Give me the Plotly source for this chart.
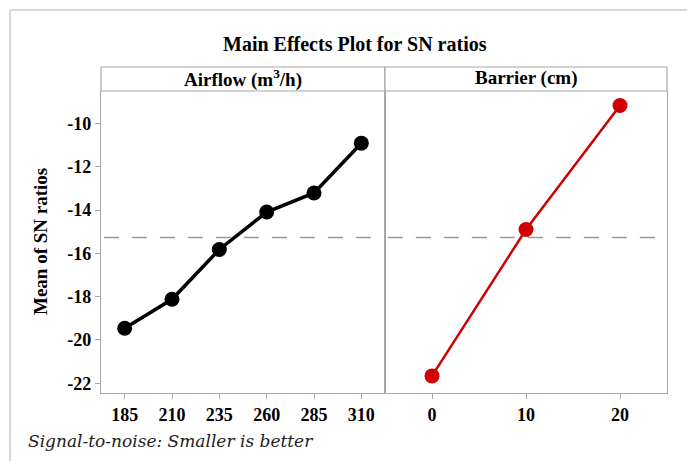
import plotly.graph_objects as go

airflow_levels = ["185", "210", "235", "260", "285", "310"]
airflow_sn = [-19.46, -18.12, -15.82, -14.09, -13.21, -10.91]
barrier_levels = [0, 10, 20]
barrier_sn = [-21.66, -14.90, -9.17]
y_ticks = [-22, -20, -18, -16, -14, -12, -10]
y_tick_labels = ["-22", "-20", "-18", "-16", "-14", "-12", "-10"]

overall_mean = sum(airflow_sn) / len(airflow_sn)

W, H = 687, 461
def px(x):
    return x / W
def py(y):
    return (H - y) / H

FONT = "Liberation Serif"
GRID = "#a8a8a8"

fig = go.Figure()
fig.add_trace(go.Scatter(x=airflow_levels, y=airflow_sn, mode="lines+markers",
                         line=dict(color="black", width=3.5),
                         marker=dict(color="black", size=15),
                         xaxis="x", yaxis="y", showlegend=False))
fig.add_trace(go.Scatter(x=barrier_levels, y=barrier_sn, mode="lines+markers",
                         line=dict(color="#d00000", width=2.5),
                         marker=dict(color="#d00000", size=15),
                         xaxis="x2", yaxis="y2", showlegend=False))

x1d = [px(101), px(385)]
x2d = [px(385), px(667)]
yd = [py(393), py(91)]
yr = [-22.45, -8.5]

tickfont = dict(family=FONT, size=18, color="black", weight="bold")
axis_common = dict(showline=True, linecolor=GRID, linewidth=1.2, mirror=True,
                   showgrid=False, zeroline=False, tickcolor=GRID,
                   ticklen=5, tickwidth=1.2, tickfont=tickfont)

fig.update_layout(
    width=W, height=H, margin=dict(l=0, r=0, t=0, b=0),
    paper_bgcolor="white", plot_bgcolor="white",
    xaxis=dict(domain=x1d, anchor="y", type="category", range=[-0.5, 5.5],
               ticks="outside", **axis_common),
    xaxis2=dict(domain=x2d, anchor="y2", range=[-5, 25], tickvals=barrier_levels,
                ticks="outside", **axis_common),
    yaxis=dict(domain=yd, anchor="x", range=yr, tickvals=y_ticks, ticktext=y_tick_labels,
               ticks="outside", **axis_common),
    yaxis2=dict(domain=yd, anchor="x2", range=yr, showticklabels=False, ticks="",
                **axis_common),
)

# reference dashed lines at overall mean
for xr, yr_ in (("x domain", "y"), ("x2 domain", "y2")):
    fig.add_shape(type="line", xref=xr, yref=yr_, x0=0.01, x1=0.99, y0=overall_mean, y1=overall_mean,
                  line=dict(color="#999999", width=1.5, dash="15px,13px"), layer="below")

# strips
for d in (x1d, x2d):
    fig.add_shape(type="rect", xref="paper", yref="paper", x0=d[0], x1=d[1],
                  y0=py(91), y1=py(67), line=dict(color=GRID, width=1.2), fillcolor="white")

def note(x, y, text, size, **kw):
    fig.add_annotation(xref="paper", yref="paper", x=px(x), y=py(y), text=text,
                       showarrow=False, xanchor=kw.pop("xanchor", "center"),
                       yanchor="middle",
                       font=dict(family=kw.pop("family", FONT), size=size,
                                 color=kw.pop("color", "black")), **kw)

note(243, 78, "<b>Airflow (m<sup>3</sup>/h)</b>", 19)
note(526, 78, "<b>Barrier (cm)</b>", 19)
note(355, 44, "<b>Main Effects Plot for SN ratios</b>", 20)
note(40, 242, "<b>Mean of SN ratios</b>", 19, textangle=-90)
note(26, 441, "<i>Signal-to-noise: Smaller is better</i>", 17, xanchor="left",
     color="#222222", family="DejaVu Serif")

# outer frame (left and top edges)
fig.add_shape(type="line", xref="paper", yref="paper", x0=px(10), x1=px(10), y0=0, y1=py(10),
              line=dict(color="#d8d8d8", width=2))
fig.add_shape(type="line", xref="paper", yref="paper", x0=px(10), x1=1, y0=py(10), y1=py(10),
              line=dict(color="#d8d8d8", width=2))

fig.write_html("out.html", config={"displayModeBar": False},
               post_script="document.body.style.margin='0px';")
